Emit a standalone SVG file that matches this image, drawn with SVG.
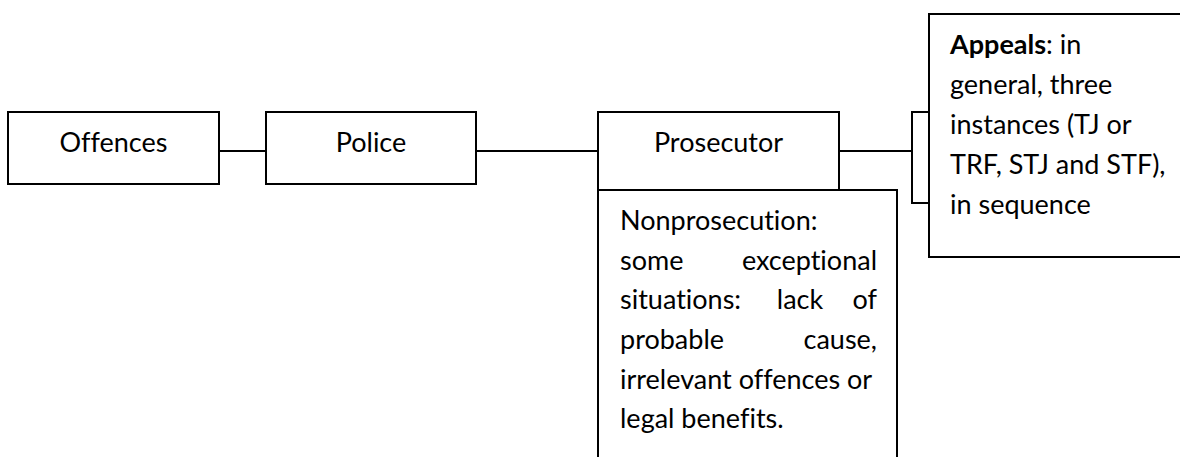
<svg xmlns="http://www.w3.org/2000/svg" width="1180" height="457" viewBox="0 0 1180 457">
<style>
.box{fill:#fff;stroke:#000;stroke-width:2}
.conn line{stroke:#000;stroke-width:2}
text{font-family:Lato,"Open Sans",sans-serif;font-size:27px;fill:#000;font-variant-ligatures:none}
.c{text-anchor:middle}
.e{text-anchor:end}
</style>
<rect x="0" y="0" width="1180" height="457" fill="#fff"/>
<g id="connectors" class="conn">
<line x1="219" y1="151" x2="266" y2="151"/>
<line x1="476" y1="151" x2="598" y2="151"/>
<line x1="839" y1="151" x2="912" y2="151"/>
</g>
<g id="offences">
<rect class="box" x="8" y="112" width="211" height="72"/>
<text class="c" x="113.5" y="152">Offences</text>
</g>
<g id="police">
<rect class="box" x="266" y="112" width="210" height="72"/>
<text class="c" x="371" y="152">Police</text>
</g>
<g id="prosecutor">
<rect class="box" x="598" y="112" width="241" height="78"/>
<text class="c" x="718.5" y="152">Prosecutor</text>
</g>
<g id="nonprosecution">
<rect class="box" x="598" y="190" width="299" height="290"/>
<text x="620" y="230">Nonprosecution:</text>
<text x="620" y="270">some</text><text class="e" x="877" y="270">exceptional</text>
<text x="620" y="309">situations:</text><text class="c" x="800" y="309">lack</text><text class="e" x="877" y="309">of</text>
<text x="620" y="349">probable</text><text class="e" x="877" y="349">cause,</text>
<text x="620" y="389">irrelevant offences or</text>
<text x="620" y="428">legal benefits.</text>
</g>
<g id="connector-box">
<rect class="box" x="912" y="112" width="40" height="91"/>
</g>
<g id="appeals">
<rect class="box" x="929" y="14" width="270" height="243"/>
<text x="950" y="54"><tspan font-weight="bold">Appeals</tspan>: in</text>
<text x="950" y="94">general, three</text>
<text x="950" y="134">instances (TJ or</text>
<text x="950" y="174">TRF, STJ and STF),</text>
<text x="950" y="214">in sequence</text>
</g>
</svg>
